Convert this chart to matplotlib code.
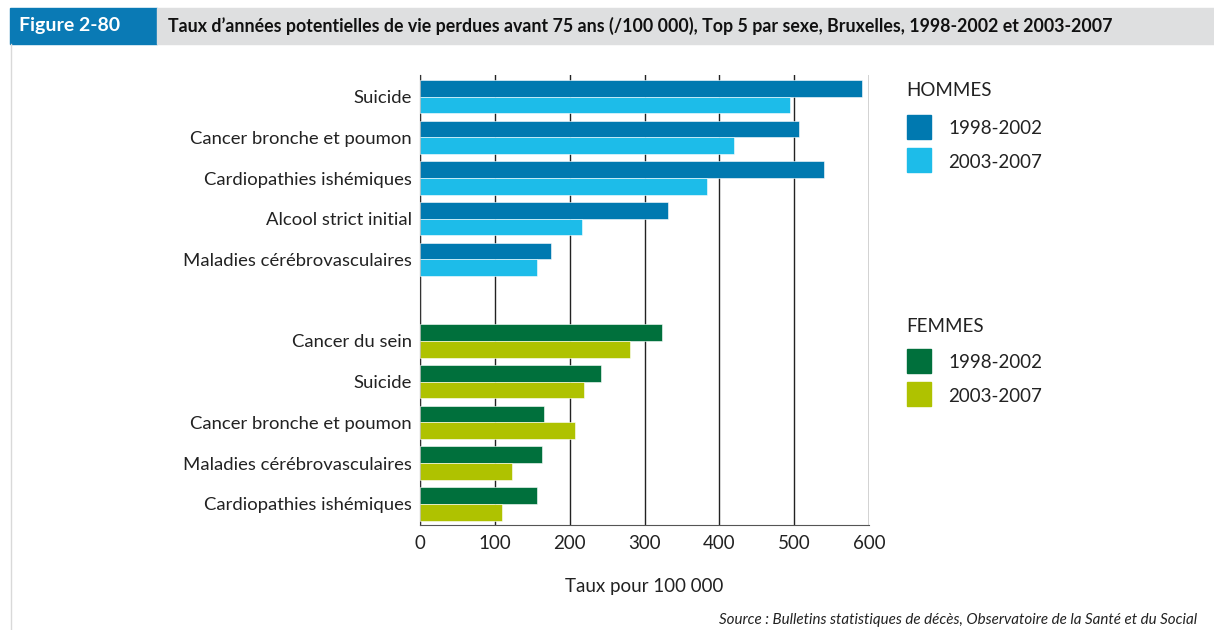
import matplotlib.pyplot as plt
from matplotlib.patches import Rectangle
from matplotlib.lines import Line2D

plt.rcParams['font.family'] = ['Lato', 'DejaVu Sans']

W, H = 1214, 630

causes_h = ["Suicide", "Cancer bronche et poumon", "Cardiopathies ishémiques",
            "Alcool strict initial", "Maladies cérébrovasculaires"]
h_1998 = [591, 506, 540, 332, 175]
h_2003 = [495, 419, 383, 216, 156]

causes_f = ["Cancer du sein", "Suicide", "Cancer bronche et poumon",
            "Maladies cérébrovasculaires", "Cardiopathies ishémiques"]
f_1998 = [324, 242, 166, 163, 157]
f_2003 = [281, 219, 207, 123, 110]

periods = ["1998-2002", "2003-2007"]
xticks = [0, 100, 200, 300, 400, 500, 600]

blue_dark, blue_light = "#0079b0", "#1dbce9"
green_dark, green_light = "#00703c", "#afc200"
txt = "#222222"


def fx(px):
    return px / W


def fy(py):
    return 1 - py / H


fig = plt.figure(figsize=(W / 100, H / 100), dpi=100)

# header band
fig.patches.append(Rectangle((fx(10), fy(44)), fx(147), 36 / H, transform=fig.transFigure,
                             color="#0a7ab5", zorder=0))
fig.patches.append(Rectangle((fx(157), fy(44)), fx(W - 157), 36 / H, transform=fig.transFigure,
                             color="#dedfe0", zorder=0))
fig.text(fx(19), fy(26), "Figure 2-80", color="white", fontsize=14, fontweight="bold", va="center")
fig.text(fx(168), fy(26),
         "Taux d’années potentielles de vie perdues avant 75 ans (/100 000), Top 5 par sexe, "
         "Bruxelles, 1998-2002 et 2003-2007",
         color="#111111", fontsize=12.8, fontweight="bold", va="center")
fig.lines.append(Line2D([fx(10.5), fx(10.5)], [fy(44), 0], transform=fig.transFigure,
                        color="#d9d9d9", lw=1))

# main axes
ax = fig.add_axes([fx(420), fy(525), fx(869) - fx(420), (525 - 75) / H])
ypos_h = list(range(5))
ypos_f = list(range(6, 11))
bh = 0.41
ax.barh([y - bh / 2 for y in ypos_h], h_1998, height=bh, color=blue_dark, edgecolor="white", lw=0.4, zorder=3)
ax.barh([y + bh / 2 for y in ypos_h], h_2003, height=bh, color=blue_light, edgecolor="white", lw=0.4, zorder=3)
ax.barh([y - bh / 2 for y in ypos_f], f_1998, height=bh, color=green_dark, edgecolor="white", lw=0.4, zorder=3)
ax.barh([y + bh / 2 for y in ypos_f], f_2003, height=bh, color=green_light, edgecolor="white", lw=0.4, zorder=3)

ax.set_xlim(0, 600)
ax.set_ylim(10.52, -0.53)
ax.set_xticks(xticks)
ax.set_xticklabels([str(t) for t in xticks], fontsize=13.5, color=txt)
ax.set_yticks(ypos_h + ypos_f)
ax.set_yticklabels(causes_h + causes_f, fontsize=13.3, color=txt)
ax.tick_params(length=0, pad=6)
ax.tick_params(axis="x", pad=7)
ax.xaxis.grid(True, color="#222222", lw=1, zorder=1)
for s in ["top", "right"]:
    ax.spines[s].set_visible(False)
ax.spines["left"].set_color("#333333")
ax.spines["bottom"].set_color("#555555")
ax.set_xlabel("Taux pour 100 000", fontsize=13.5, color=txt, labelpad=19)


# legends
def legend_block(title, y_title, y_sq, colors):
    fig.text(fx(906), fy(y_title), title, fontsize=13.5, color=txt, va="center")
    for yy, col, lab in zip(y_sq, colors, periods):
        fig.patches.append(Rectangle((fx(907), fy(yy + 24)), fx(24), 24 / H,
                                     transform=fig.transFigure, color=col))
        fig.text(fx(948), fy(yy + 14), lab, fontsize=13.5, color=txt, va="center")


legend_block("HOMMES", 90, [115, 148], [blue_dark, blue_light])
legend_block("FEMMES", 326, [349, 382], [green_dark, green_light])

fig.text(fx(1197), fy(620), "Source : Bulletins statistiques de décès, Observatoire de la Santé et du Social",
         fontsize=10.9, style="italic", color=txt, ha="right", va="center")

fig.savefig("out.png", dpi=100)
